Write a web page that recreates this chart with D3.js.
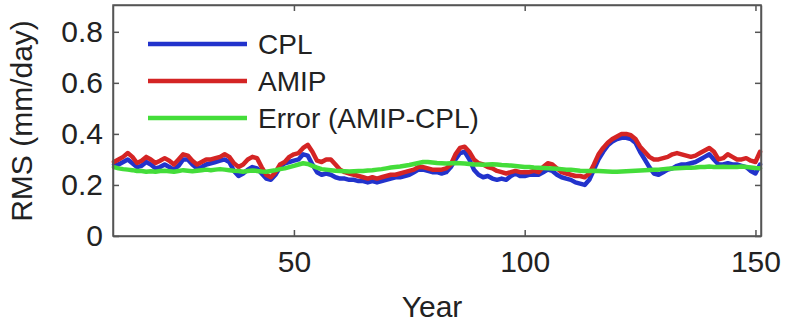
<!DOCTYPE html>
<html>
<head>
<meta charset="utf-8">
<script src="https://cdn.jsdelivr.net/npm/d3@7"></script>
<style>
  body { margin: 0; background: #fff; }
  svg { display: block; font-family: "Liberation Sans", Arial, Helvetica, sans-serif; }
  .axis path, .axis line { stroke: #555; stroke-width: 1.5; }
  .axis text { fill: #222; font-size: 30px; }
  .series { fill: none; stroke-width: 4.5; stroke-linejoin: round; stroke-linecap: round; }
</style>
</head>
<body>
<div id="chart"></div>
<script>
// years 11..151, one value per year
var years = d3.range(11, 152);

var cplValues = [
  0.28, 0.28, 0.29, 0.30, 0.285, 0.27, 0.275, 0.29, 0.28, 0.265,
  0.27, 0.28, 0.27, 0.26, 0.275, 0.30, 0.30, 0.28, 0.265, 0.27,
  0.28, 0.285, 0.29, 0.295, 0.30, 0.29, 0.255, 0.235, 0.245, 0.26,
  0.27, 0.265, 0.245, 0.225, 0.22, 0.24, 0.27, 0.285, 0.29, 0.295,
  0.30, 0.32, 0.315, 0.28, 0.25, 0.24, 0.245, 0.24, 0.23, 0.225,
  0.225, 0.22, 0.22, 0.215, 0.215, 0.21, 0.215, 0.21, 0.215, 0.22,
  0.225, 0.23, 0.23, 0.235, 0.24, 0.25, 0.26, 0.26, 0.255, 0.25,
  0.25, 0.245, 0.25, 0.27, 0.30, 0.325, 0.33, 0.30, 0.26, 0.24,
  0.23, 0.235, 0.225, 0.22, 0.225, 0.22, 0.235, 0.245, 0.235, 0.235,
  0.24, 0.24, 0.24, 0.25, 0.26, 0.255, 0.24, 0.23, 0.225, 0.22,
  0.21, 0.205, 0.20, 0.22, 0.26, 0.30, 0.33, 0.355, 0.37, 0.38,
  0.385, 0.385, 0.38, 0.365, 0.33, 0.30, 0.27, 0.245, 0.24, 0.25,
  0.26, 0.265, 0.275, 0.28, 0.28, 0.285, 0.29, 0.30, 0.31, 0.32,
  0.30, 0.28, 0.28, 0.285, 0.28, 0.28, 0.275, 0.27, 0.255, 0.245,
  0.28
];

var amipValues = [
  0.29, 0.30, 0.31, 0.325, 0.31, 0.286, 0.295, 0.31, 0.30, 0.286,
  0.295, 0.305, 0.295, 0.28, 0.30, 0.32, 0.315, 0.295, 0.28, 0.29,
  0.30, 0.30, 0.305, 0.31, 0.32, 0.31, 0.285, 0.27, 0.28, 0.30,
  0.31, 0.305, 0.27, 0.24, 0.23, 0.25, 0.28, 0.29, 0.31, 0.32,
  0.325, 0.345, 0.357, 0.33, 0.295, 0.29, 0.30, 0.30, 0.28, 0.26,
  0.25, 0.245, 0.24, 0.235, 0.23, 0.225, 0.23, 0.225, 0.23, 0.235,
  0.24, 0.24, 0.245, 0.25, 0.255, 0.26, 0.27, 0.27, 0.265, 0.26,
  0.26, 0.26, 0.265, 0.28, 0.32, 0.345, 0.35, 0.33, 0.30, 0.285,
  0.28, 0.27, 0.265, 0.255, 0.25, 0.245, 0.25, 0.255, 0.25, 0.25,
  0.25, 0.255, 0.25, 0.27, 0.285, 0.28, 0.265, 0.25, 0.245, 0.24,
  0.235, 0.235, 0.23, 0.245, 0.28, 0.32, 0.345, 0.365, 0.38, 0.39,
  0.40, 0.40, 0.395, 0.38, 0.35, 0.33, 0.31, 0.30, 0.30, 0.305,
  0.31, 0.32, 0.325, 0.32, 0.315, 0.31, 0.315, 0.325, 0.335, 0.345,
  0.33, 0.30, 0.305, 0.32, 0.31, 0.30, 0.30, 0.305, 0.295, 0.29,
  0.33
];

var errorValues = [
  0.27, 0.265, 0.262, 0.26, 0.258, 0.255, 0.255, 0.252, 0.254, 0.252,
  0.255, 0.256, 0.254, 0.252, 0.255, 0.258, 0.256, 0.254, 0.256, 0.258,
  0.26, 0.258, 0.26, 0.262, 0.26, 0.258, 0.256, 0.255, 0.252, 0.255,
  0.257, 0.255, 0.253, 0.252, 0.255, 0.258, 0.262, 0.265, 0.27, 0.275,
  0.28, 0.285, 0.282, 0.275, 0.268, 0.262, 0.26, 0.258, 0.256, 0.255,
  0.254, 0.253, 0.254, 0.255, 0.255, 0.257, 0.258, 0.26, 0.262, 0.265,
  0.268, 0.27, 0.272, 0.275, 0.278, 0.282, 0.286, 0.29, 0.29, 0.288,
  0.286, 0.285, 0.284, 0.285, 0.286, 0.285, 0.284, 0.282, 0.28, 0.28,
  0.279, 0.28, 0.281, 0.28, 0.278, 0.277, 0.276, 0.274, 0.272, 0.27,
  0.27, 0.268, 0.267, 0.266, 0.265, 0.264, 0.263, 0.262, 0.26, 0.26,
  0.258, 0.256, 0.255, 0.255, 0.256, 0.255, 0.254, 0.253, 0.252, 0.252,
  0.253, 0.254, 0.255, 0.256, 0.257, 0.258, 0.259, 0.26, 0.26, 0.262,
  0.263, 0.264, 0.265, 0.266, 0.267, 0.267, 0.268, 0.27, 0.27, 0.272,
  0.27, 0.27, 0.271, 0.27, 0.27, 0.27, 0.272, 0.27, 0.268, 0.266,
  0.265
];

var seriesNames = ["CPL", "AMIP", "Error (AMIP-CPL)"];
var seriesColors = ["#2233cc", "#d42424", "#44dd3a"];
var xTicks = [50, 100, 150];
var yTicks = [0, 0.2, 0.4, 0.6, 0.8];

var width = 788, height = 325;
var margin = {top: 5, right: 27, bottom: 89, left: 113};

var svg = d3.select("#chart").append("svg")
    .attr("width", width)
    .attr("height", height);

var xScale = d3.scaleLinear().domain([10.8, 151.2]).range([margin.left, width - margin.right]);
var yScale = d3.scaleLinear().domain([0, 0.905]).range([height - margin.bottom, margin.top]);

// lines (blue under red under green)
var line = d3.line()
    .x(function (d) { return xScale(d[0]); })
    .y(function (d) { return yScale(d[1]); });

var allValues = [cplValues, amipValues, errorValues];
svg.append("g").attr("class", "lines")
    .selectAll("path")
    .data(allValues)
    .enter().append("path")
    .attr("class", "series")
    .attr("stroke", function (d, i) { return seriesColors[i]; })
    .attr("d", function (vals) {
        return line(years.map(function (y, i) { return [y, vals[i]]; }));
    });

// axes with inward ticks, mirrored on top/right
var x0 = xScale.range()[0], x1 = xScale.range()[1];
var y0 = yScale.range()[0], y1 = yScale.range()[1];

svg.append("g").attr("class", "axis")
    .attr("transform", "translate(0," + y0 + ")")
    .call(d3.axisBottom(xScale).tickValues(xTicks).tickSizeInner(-6).tickSizeOuter(0).tickPadding(15));
svg.append("g").attr("class", "axis")
    .attr("transform", "translate(0," + y1 + ")")
    .call(d3.axisTop(xScale).tickValues(xTicks).tickSizeInner(-6).tickSizeOuter(0).tickFormat(""));
svg.append("g").attr("class", "axis")
    .attr("transform", "translate(" + x0 + ",0)")
    .call(d3.axisLeft(yScale).tickValues(yTicks).tickSizeInner(-6).tickSizeOuter(0).tickPadding(10)
        .tickFormat(function (d) { return d === 0 ? "0" : d3.format(".1f")(d); }));
svg.append("g").attr("class", "axis")
    .attr("transform", "translate(" + x1 + ",0)")
    .call(d3.axisRight(yScale).tickValues(yTicks).tickSizeInner(-6).tickSizeOuter(0).tickFormat(""));

svg.append("rect")
    .attr("x", x0).attr("y", y1)
    .attr("width", x1 - x0).attr("height", y0 - y1)
    .attr("fill", "none").attr("stroke", "#555").attr("stroke-width", 1.5);

// axis titles
svg.append("text")
    .attr("x", (x0 + x1) / 2 - 5)
    .attr("y", 317)
    .attr("text-anchor", "middle")
    .attr("font-size", 30)
    .attr("fill", "#222")
    .text("Year");

svg.append("text")
    .attr("transform", "translate(32," + 121 + ") rotate(-90)")
    .attr("text-anchor", "middle")
    .attr("font-size", 30)
    .attr("fill", "#222")
    .text("RMS (mm/day)");

// legend
var legend = svg.append("g").attr("class", "legend");
seriesNames.forEach(function (name, i) {
    var ly = 44 + i * 37;
    legend.append("line")
        .attr("x1", 148).attr("x2", 247)
        .attr("y1", ly).attr("y2", ly)
        .attr("stroke", seriesColors[i])
        .attr("stroke-width", 4.5);
    legend.append("text")
        .attr("x", 258).attr("y", ly + 10)
        .attr("font-size", 28)
        .attr("fill", "#222")
        .text(name);
});
</script>
</body>
</html>
